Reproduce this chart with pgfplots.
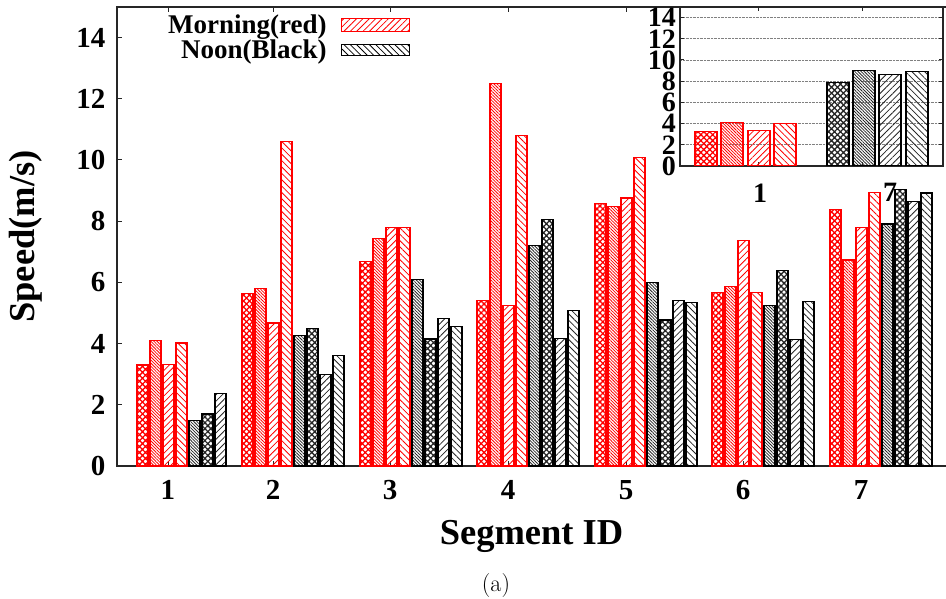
\documentclass[border=0pt]{standalone}
\usepackage{fontspec}
\usepackage{pgfplots}
\pgfplotsset{compat=1.18}
\usetikzlibrary{patterns.meta}
\newfontfamily\tnr{Liberation Serif}
\tikzset{
  pXH/.style={pattern={Hatch[angle=45,distance=4.2pt,line width=1.3pt]}},
  pDN/.style={pattern={Lines[angle=-45,distance=2.2pt,line width=0.8pt]}},
  pNE/.style={pattern={Lines[angle=45,distance=4.5pt,line width=0.8pt]}},
  pNW/.style={pattern={Lines[angle=-45,distance=4.5pt,line width=0.8pt]}},
}
\pgfplotsset{
  rbar/.style={ybar, bar shift=0pt, draw=red, line width=1.2pt, pattern color=red},
  kbar/.style={ybar, bar shift=0pt, draw=black, line width=1.2pt, pattern color=black!85},
}
\begin{document}
\begin{tikzpicture}[x=1pt,y=1pt]
\begin{axis}[
  at={(117pt,132pt)}, anchor=south west,
  scale only axis, width=835pt, height=459pt,
  xmin=117, xmax=952, ymin=0, ymax=15,
  axis line style={line width=1.4pt, black!85},
  xtick={168,273,390,508,626,743,861},
  xticklabels={1,2,3,4,5,6,7},
  ytick={0,2,4,6,8,10,12,14}, ytick pos=left,
  tick align=inside, major tick length=5pt,
  tick style={line width=1pt, black!85},
  /pgf/number format/assume math mode=true,
  ticklabel style={font=\tnr\bfseries\fontsize{29}{29}\selectfont},
  xticklabel style={yshift=-11pt},
  yticklabel style={xshift=-8pt},
  bar width=11,
  xlabel={Segment ID}, ylabel={Speed(m/s)},
  label style={font=\tnr\bfseries\fontsize{36.5}{36.5}\selectfont},
  xlabel style={at={(axis description cs:0.5,-0.154)}, anchor=center, xshift=-3pt},
  ylabel style={at={(axis description cs:-0.109,0.5)}, anchor=center},
  legend style={draw=none, fill=none, at={(0.3509,0.986)}, anchor=north east,
    font=\tnr\bfseries\fontsize{27}{27}\selectfont, row sep=3pt, column sep=13pt, inner sep=0pt,
    nodes={inner sep=1pt}},
  legend cell align=right, legend plot pos=right,
]
\addlegendimage{legend image code/.code={\draw[red, line width=1.2pt, pNE, pattern color=red] (0pt,-6.5pt) rectangle (68pt,6.5pt);}}
\addlegendentry{Morning(red)}
\addlegendimage{legend image code/.code={\draw[black, line width=1.2pt, pNW, pattern color=black] (0pt,-5.5pt) rectangle (68pt,5.5pt);}}
\addlegendentry{Noon(Black)}
% red series
\addplot[rbar, pXH] coordinates {(142.5,3.30) (247.5,5.64) (365.5,6.67) (482.5,5.42) (600.5,8.57) (717.5,5.67) (835.5,8.38)};
\addplot[rbar, pDN] coordinates {(155.5,4.10) (260.5,5.80) (378.5,7.43) (495.5,12.49) (613.5,8.49) (730.5,5.87) (848.5,6.73)};
\addplot[rbar, pNE] coordinates {(168.5,3.33) (273.5,4.67) (391.5,7.79) (508.5,5.25) (626.5,8.76) (743.5,7.37) (861.5,7.79)};
\addplot[rbar, pNW] coordinates {(181.5,4.02) (286.5,10.60) (404.5,7.79) (521.5,10.79) (639.5,10.07) (756.5,5.67) (874.5,8.94)};
% black series
\addplot[kbar, pDN] coordinates {(194.5,1.50) (299.5,4.27) (417.5,6.09) (534.5,7.21) (652.5,6.00) (769.5,5.24) (887.5,7.91)};
\addplot[kbar, pXH] coordinates {(207.5,1.70) (312.5,4.49) (430.5,4.15) (547.5,8.05) (665.5,4.77) (782.5,6.39) (900.5,9.04)};
\addplot[kbar, pNE] coordinates {(220.5,2.37) (325.5,2.99) (443.5,4.82) (560.5,4.17) (678.5,5.42) (795.5,4.13) (913.5,8.65)};
\addplot[kbar, pNW] coordinates {(338.5,3.61) (456.5,4.56) (573.5,5.09) (691.5,5.35) (808.5,5.38) (926.5,8.92)};
\end{axis}
\begin{axis}[
  at={(680pt,432pt)}, anchor=south west,
  scale only axis, width=263pt, height=159pt,
  xmin=680, xmax=943, ymin=0, ymax=15,
  axis background/.style={fill=white},
  axis line style={line width=1.4pt, black!85},
  xtick={758,862}, xticklabels={},
  extra x ticks={760,890}, extra x tick labels={1,7},
  extra x tick style={major tick length=0pt, xticklabel style={yshift=-14pt}},
  ytick={0,2,4,6,8,10,12,14},
  ymajorgrids, grid style={densely dotted, gray, line width=0.6pt},
  tick align=inside, major tick length=4pt,
  tick style={line width=1pt, black!85},
  /pgf/number format/assume math mode=true,
  ticklabel style={font=\tnr\bfseries\fontsize{28}{28}\selectfont},
  yticklabel style={inner sep=0pt, xshift=-4pt},
  bar width=22,
]
\addplot[rbar, pXH] coordinates {(706,3.28)};
\addplot[rbar, pDN] coordinates {(732,4.10)};
\addplot[rbar, pNE] coordinates {(759,3.38)};
\addplot[rbar, pNW] coordinates {(785,4.00)};
\addplot[kbar, pXH] coordinates {(838,7.90)};
\addplot[kbar, pDN] coordinates {(864,9.00)};
\addplot[kbar, pNE] coordinates {(890,8.60)};
\addplot[kbar, pNW] coordinates {(917,8.90)};
\end{axis}
\node[font=\fontsize{24}{24}\selectfont, anchor=base] at (496pt,7pt) {(a)};
\pgfresetboundingbox
\path[use as bounding box] (0,0) rectangle (946pt,598pt);
\end{tikzpicture}
\end{document}
